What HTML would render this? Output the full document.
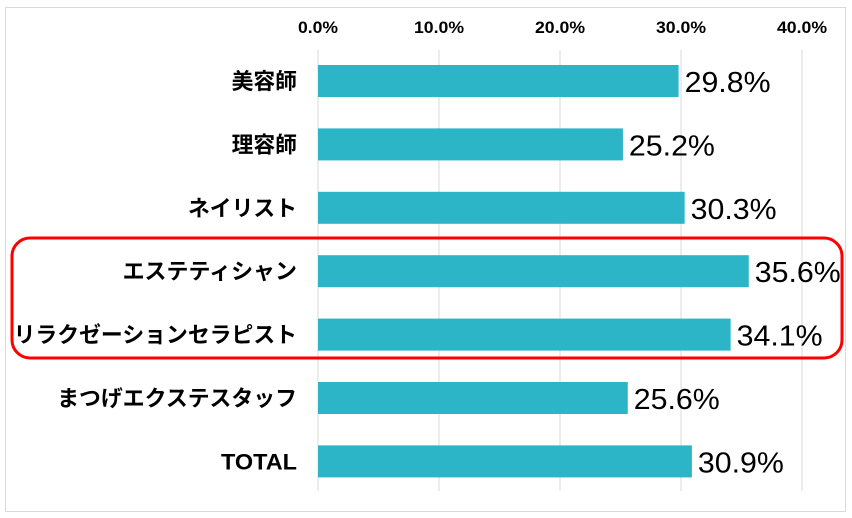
<!DOCTYPE html>
<html><head><meta charset="utf-8"><style>
html,body{margin:0;padding:0;background:#fff;width:852px;height:518px;overflow:hidden}
svg text{font-family:"Liberation Sans","Noto Sans CJK JP",sans-serif}
</style></head><body>
<svg id="chart" width="852" height="518" xmlns="http://www.w3.org/2000/svg">
<rect x="5.5" y="7.5" width="840" height="504" fill="#fff" stroke="#d9d9d9" stroke-width="1"/>
<g id="grid"></g><g id="ticks"></g><g id="bars"></g><g id="labels"></g>
<rect x="12" y="238" width="830" height="120" rx="18" fill="none" stroke="#f00" stroke-width="3"/>
</svg>
<script>
const categories=["美容師","理容師","ネイリスト","エステティシャン","リラクゼーションセラピスト","まつげエクステスタッフ","TOTAL"];
const values=[29.8,25.2,30.3,35.6,34.1,25.6,30.9];
const tickValues=[0,10,20,30,40];
const tickLabels=["0.0%","10.0%","20.0%","30.0%","40.0%"];
const NS="http://www.w3.org/2000/svg";
const x=v=>318+v*12.1;
const yc=i=>81+i*63.4;
function mk(tag,attrs,parent,txt){const e=document.createElementNS(NS,tag);for(const k in attrs)e.setAttribute(k,attrs[k]);if(txt!==undefined)e.textContent=txt;document.getElementById(parent).appendChild(e);return e;}
tickValues.forEach((t,i)=>{
  const g=mk('line',{x1:x(t),x2:x(t),y1:50,y2:491,stroke:'#d9d9d9','stroke-width':1},'grid');
  
  
  const tl=mk('text',{x:x(t),y:33,'text-anchor':'middle','font-size':17,'font-weight':'bold',fill:'#000',textLength:t===0?40:50,lengthAdjust:'spacingAndGlyphs'},'ticks',tickLabels[i]);
  
  
});
categories.forEach((c,i)=>{
  const b=mk('rect',{x:x(0),y:yc(i)-16,width:x(values[i])-x(0),height:32,fill:'#2bb5c7'},'bars');
  
  
  const isLatin=/^[A-Z]+$/.test(c);
  const la={x:297,y:yc(i)+8,'text-anchor':'end','font-size':22,'font-weight':'bold',fill:'#000'};
  if(!isLatin){la.textLength=c.length*21.8;la.lengthAdjust='spacingAndGlyphs';}
  else{la.textLength=76;la.lengthAdjust='spacingAndGlyphs';}
  const l=mk('text',la,'labels',c);
  
  
  const v=mk('text',{x:x(values[i])+6,y:yc(i)+11,'font-size':29,fill:'#000',textLength:86,lengthAdjust:'spacingAndGlyphs'},'labels',values[i].toFixed(1)+'%');
  
  
});
</script>
</body></html>
